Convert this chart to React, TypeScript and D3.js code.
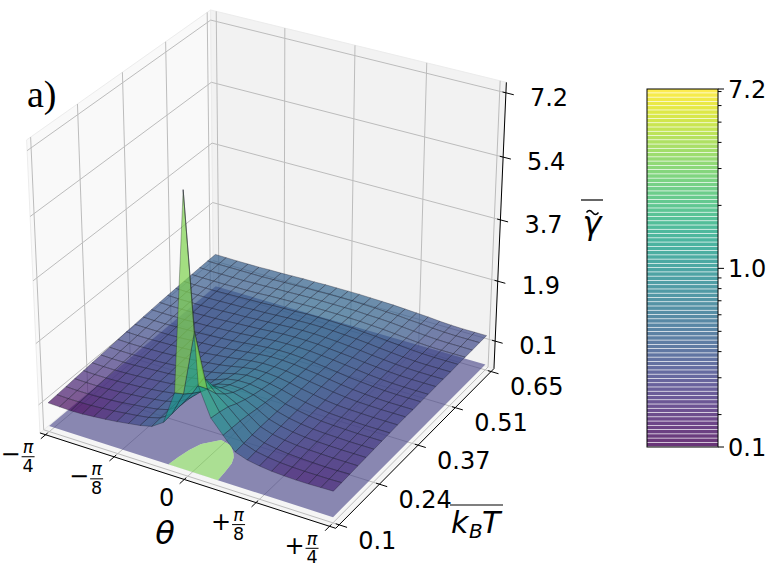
import { useMemo } from 'react';
import * as d3 from 'd3';

const W = 767;
const H = 571;
const FONT = 'DejaVu Sans, sans-serif';

// grid of the surface
const thetaDeg = [
  -45, -41.25, -37.5, -33.75, -30, -26.25, -22.5, -18.75, -15, -11.25, -7.5, -3.75, 0,
  3.75, 7.5, 11.25, 15, 18.75, 22.5, 26.25, 30, 33.75, 37.5, 41.25, 45,
];
const kbtValues = [
  0.1, 0.1275, 0.155, 0.1825, 0.21, 0.2375, 0.265, 0.2925, 0.32, 0.3475, 0.375,
  0.4025, 0.43, 0.4575, 0.485, 0.5125, 0.54, 0.5675, 0.595, 0.6225, 0.65,
];
// gamma[j][i] : row j = kbtValues[j], column i = thetaDeg[i]
const gamma = [
  [0.16, 0.15, 0.14, 0.15, 0.18, 0.21, 0.25, 0.30, 0.35, 0.43, 0.65, 1.60, 7.20, 2.00, 1.20, 0.82, 0.45, 0.33, 0.27, 0.23, 0.21, 0.20, 0.20, 0.21, 0.22],
  [0.18, 0.17, 0.17, 0.18, 0.20, 0.23, 0.27, 0.31, 0.36, 0.45, 0.68, 1.35, 3.20, 1.70, 1.15, 0.80, 0.47, 0.35, 0.29, 0.25, 0.23, 0.22, 0.22, 0.22, 0.23],
  [0.20, 0.19, 0.19, 0.20, 0.22, 0.25, 0.29, 0.33, 0.38, 0.47, 0.70, 1.15, 1.70, 1.35, 1.08, 0.78, 0.49, 0.37, 0.31, 0.27, 0.25, 0.24, 0.23, 0.23, 0.24],
  [0.22, 0.21, 0.21, 0.22, 0.24, 0.27, 0.30, 0.34, 0.39, 0.48, 0.68, 0.98, 1.25, 1.12, 0.95, 0.74, 0.50, 0.39, 0.33, 0.29, 0.27, 0.26, 0.25, 0.25, 0.25],
  [0.24, 0.23, 0.23, 0.24, 0.26, 0.28, 0.31, 0.35, 0.40, 0.48, 0.64, 0.86, 0.98, 0.95, 0.85, 0.69, 0.50, 0.40, 0.34, 0.30, 0.28, 0.27, 0.26, 0.26, 0.26],
  [0.26, 0.25, 0.25, 0.26, 0.28, 0.30, 0.33, 0.36, 0.41, 0.48, 0.60, 0.77, 0.85, 0.84, 0.77, 0.65, 0.50, 0.41, 0.35, 0.31, 0.29, 0.28, 0.27, 0.27, 0.27],
  [0.28, 0.27, 0.27, 0.28, 0.30, 0.32, 0.34, 0.38, 0.42, 0.48, 0.57, 0.70, 0.76, 0.76, 0.71, 0.62, 0.50, 0.42, 0.36, 0.32, 0.30, 0.29, 0.28, 0.28, 0.28],
  [0.30, 0.29, 0.29, 0.30, 0.31, 0.33, 0.36, 0.39, 0.43, 0.48, 0.55, 0.64, 0.70, 0.70, 0.66, 0.59, 0.50, 0.43, 0.37, 0.33, 0.31, 0.30, 0.29, 0.29, 0.29],
  [0.32, 0.31, 0.31, 0.32, 0.33, 0.35, 0.37, 0.40, 0.44, 0.48, 0.54, 0.61, 0.66, 0.66, 0.63, 0.57, 0.50, 0.44, 0.38, 0.34, 0.32, 0.31, 0.30, 0.30, 0.30],
  [0.34, 0.33, 0.33, 0.34, 0.35, 0.36, 0.38, 0.41, 0.45, 0.49, 0.54, 0.59, 0.62, 0.62, 0.60, 0.55, 0.50, 0.45, 0.40, 0.36, 0.33, 0.32, 0.31, 0.31, 0.31],
  [0.355, 0.35, 0.35, 0.35, 0.36, 0.38, 0.40, 0.42, 0.45, 0.49, 0.53, 0.57, 0.60, 0.60, 0.58, 0.54, 0.50, 0.45, 0.40, 0.36, 0.33, 0.31, 0.30, 0.30, 0.30],
  [0.37, 0.36, 0.36, 0.37, 0.38, 0.39, 0.41, 0.43, 0.46, 0.49, 0.53, 0.56, 0.58, 0.58, 0.56, 0.53, 0.49, 0.45, 0.40, 0.37, 0.34, 0.32, 0.31, 0.31, 0.31],
  [0.385, 0.38, 0.38, 0.38, 0.39, 0.40, 0.42, 0.44, 0.46, 0.49, 0.52, 0.55, 0.56, 0.56, 0.55, 0.52, 0.49, 0.45, 0.41, 0.37, 0.34, 0.32, 0.31, 0.31, 0.31],
  [0.40, 0.39, 0.39, 0.39, 0.40, 0.41, 0.43, 0.45, 0.47, 0.49, 0.52, 0.54, 0.55, 0.55, 0.54, 0.51, 0.48, 0.45, 0.41, 0.38, 0.35, 0.33, 0.32, 0.32, 0.32],
  [0.41, 0.40, 0.40, 0.40, 0.41, 0.42, 0.44, 0.45, 0.47, 0.49, 0.51, 0.53, 0.54, 0.54, 0.53, 0.51, 0.48, 0.45, 0.41, 0.38, 0.35, 0.33, 0.32, 0.32, 0.32],
  [0.42, 0.41, 0.41, 0.41, 0.42, 0.43, 0.44, 0.46, 0.47, 0.49, 0.51, 0.52, 0.53, 0.53, 0.52, 0.50, 0.48, 0.45, 0.41, 0.38, 0.35, 0.33, 0.32, 0.32, 0.32],
  [0.43, 0.42, 0.42, 0.42, 0.43, 0.44, 0.45, 0.46, 0.48, 0.49, 0.50, 0.52, 0.52, 0.52, 0.51, 0.50, 0.47, 0.45, 0.42, 0.39, 0.36, 0.34, 0.33, 0.33, 0.33],
  [0.44, 0.43, 0.43, 0.43, 0.44, 0.44, 0.45, 0.47, 0.48, 0.49, 0.50, 0.51, 0.51, 0.51, 0.50, 0.49, 0.47, 0.45, 0.42, 0.39, 0.36, 0.34, 0.33, 0.33, 0.33],
  [0.45, 0.44, 0.44, 0.44, 0.44, 0.45, 0.46, 0.47, 0.48, 0.49, 0.50, 0.50, 0.50, 0.50, 0.50, 0.48, 0.47, 0.45, 0.42, 0.39, 0.36, 0.34, 0.33, 0.33, 0.33],
  [0.455, 0.45, 0.45, 0.45, 0.45, 0.45, 0.46, 0.47, 0.48, 0.49, 0.49, 0.50, 0.50, 0.50, 0.49, 0.48, 0.46, 0.45, 0.42, 0.40, 0.37, 0.35, 0.34, 0.34, 0.34],
  [0.46, 0.455, 0.45, 0.45, 0.45, 0.46, 0.46, 0.47, 0.48, 0.48, 0.49, 0.49, 0.49, 0.49, 0.48, 0.47, 0.46, 0.44, 0.42, 0.40, 0.37, 0.35, 0.34, 0.34, 0.34],
];

const thetaTicks = [-45, -22.5, 0, 22.5, 45];
const thetaTickLabels = [
  { sign: '−', num: 'π', den: '4' },
  { sign: '−', num: 'π', den: '8' },
  { text: '0' },
  { sign: '+', num: 'π', den: '8' },
  { sign: '+', num: 'π', den: '4' },
];
const kbtTicks = [0.1, 0.2375, 0.375, 0.5125, 0.65];
const kbtTickLabels = ['0.1', '0.24', '0.37', '0.51', '0.65'];
const zTicks = [0.14, 1.905, 3.67, 5.435, 7.2];
const zTickLabels = ['0.1', '1.9', '3.7', '5.4', '7.2'];
const cbarTicks = [0.14, 1.0, 7.2];
const cbarTickLabels = ['0.1', '1.0', '7.2'];
const cbarMinor = [0.2, 0.3, 0.4, 0.5, 0.6, 0.7, 0.8, 0.9, 2, 3, 4, 5, 6, 7];
const contourLevels = [1.0];
const Z_LIM: [number, number] = [-0.52, 7.32];
const Z_FLOOR = -0.52;
const V_RANGE: [number, number] = [0.14, 7.2];

// camera (matplotlib style: azim -60, elev 30, cube box)
const AZIM = -60;
const ELEV = 30;
const DIST = 10;
const BOX = 1.8294640721620434 / Math.sqrt(3);
const PAD = BOX / 48;
const LO = -PAD;
const HI = BOX + PAD;
const SX = 3103;
const SY = 3037;
const CX = 270.8;
const CY = 259.4;

type V3 = [number, number, number];
const dot = (a: V3, b: V3) => a[0] * b[0] + a[1] * b[1] + a[2] * b[2];
const cross = (a: V3, b: V3): V3 => [
  a[1] * b[2] - a[2] * b[1],
  a[2] * b[0] - a[0] * b[2],
  a[0] * b[1] - a[1] * b[0],
];
const norm = (a: V3): V3 => {
  const l = Math.hypot(a[0], a[1], a[2]);
  return [a[0] / l, a[1] / l, a[2] / l];
};

const el = (ELEV * Math.PI) / 180;
const az = (AZIM * Math.PI) / 180;
const vw: V3 = [Math.cos(el) * Math.cos(az), Math.cos(el) * Math.sin(az), Math.sin(el)];
const eye: V3 = [BOX / 2 + DIST * vw[0], BOX / 2 + DIST * vw[1], BOX / 2 + DIST * vw[2]];
const vu = norm(cross([0, 0, 1], vw));
const vv = cross(vw, vu);

function project(p: V3): [number, number, number] {
  const d: V3 = [p[0] - eye[0], p[1] - eye[1], p[2] - eye[2]];
  const depth = -dot(d, vw);
  return [CX + (SX * dot(d, vu)) / depth, CY - (SY * dot(d, vv)) / depth, depth];
}

const xS = d3.scaleLinear().domain([-45, 45]).range([0, BOX]);
const yS = d3.scaleLinear().domain([0.1, 0.65]).range([0, BOX]);
const zS = d3.scaleLinear().domain(Z_LIM).range([0, BOX]);
const color = d3.scaleSequentialLog(d3.interpolateViridis).domain(V_RANGE).clamp(true);

const pt = (p: V3) => {
  const q = project(p);
  return `${q[0].toFixed(2)},${q[1].toFixed(2)}`;
};
const poly = (ps: V3[]) => 'M' + ps.map(pt).join('L') + 'Z';
const line = (ps: V3[]) => 'M' + ps.map(pt).join('L');

function Frac({ x, y, sign, num, den }: { x: number; y: number; sign: string; num: string; den: string }) {
  return (
    <g fontFamily={FONT} fill="#000">
      <text x={x - 15} y={y + 5.5} textAnchor="end" fontSize={24}>{sign}</text>
      <line x1={x - 14} x2={x - 1} y1={y} y2={y} stroke="#000" strokeWidth={1} />
      <text x={x - 7.5} y={y - 3.5} textAnchor="middle" fontSize={17.5} fontStyle="italic">{num}</text>
      <text x={x - 7.5} y={y + 15} textAnchor="middle" fontSize={17.5}>{den}</text>
    </g>
  );
}

export default function App() {
  const { cells, floorLow, floorHigh } = useMemo(() => {
    const nt = thetaDeg.length;
    const nk = kbtValues.length;
    const P = kbtValues.map((k, j) =>
      thetaDeg.map((t, i) => project([xS(t), yS(k), zS(gamma[j][i])])),
    );
    const out: { d: string; depth: number; fill: string }[] = [];
    for (let j = 0; j < nk - 1; j++) {
      for (let i = 0; i < nt - 1; i++) {
        const idx = [[i, j], [i + 1, j], [i + 1, j + 1], [i, j + 1]];
        const ps = idx.map(([a, b]) => P[b][a]);
        const depth = d3.mean(ps, (p) => p[2]) as number;
        const val = d3.mean(idx, ([a, b]) => gamma[b][a]) as number;
        out.push({
          d: 'M' + ps.map((p) => `${p[0].toFixed(2)},${p[1].toFixed(2)}`).join('L') + 'Z',
          depth,
          fill: color(val),
        });
      }
    }
    out.sort((a, b) => b.depth - a.depth);

    // filled contour projected onto the floor (z = Z_FLOOR)
    const zf = zS(Z_FLOOR);
    const ix = d3.scaleLinear().domain([0, nt - 1]).range([-45, 45]);
    const iy = d3.scaleLinear().domain([0, nk - 1]).range([0.1, 0.65]);
    const cont = d3.contours().size([nt, nk]).thresholds(contourLevels)(gamma.flat())[0];
    let hi = '';
    cont.coordinates.forEach((polygon) => {
      polygon.forEach((ring) => {
        const ps: V3[] = ring.map(([x, y]) => [
          xS(ix(Math.max(0, Math.min(nt - 1, x - 0.5)))),
          yS(iy(Math.max(0, Math.min(nk - 1, y - 0.5)))),
          zf,
        ]);
        hi += poly(ps);
      });
    });
    const rect = poly([
      [0, 0, zf],
      [BOX, 0, zf],
      [BOX, BOX, zf],
      [0, BOX, zf],
    ]);
    return { cells: out, floorLow: rect + hi, floorHigh: hi };
  }, []);

  // colorbar
  const cbX = 647;
  const cbW = 71;
  const cbTop = 89;
  const cbBot = 447;
  const cbY = d3.scaleLog().domain(V_RANGE).range([cbBot, cbTop]);
  const NSTRIPE = 84;
  const stripes = d3.range(NSTRIPE).map((k) => {
    const y0 = cbBot - ((cbBot - cbTop) * k) / NSTRIPE;
    const y1 = cbBot - ((cbBot - cbTop) * (k + 1)) / NSTRIPE;
    return { y: y1, h: y0 - y1 - 0.7, fill: d3.interpolateViridis((k + 0.5) / NSTRIPE) };
  });

  const gridStroke = '#bcbcbc';

  return (
    <svg
      width={W}
      height={H}
      viewBox={`0 0 ${W} ${H}`}
      style={{ position: 'absolute', left: 0, top: 0, background: '#fff' }}
    >
      {/* panes */}
      <path d={poly([[LO, LO, LO], [HI, LO, LO], [HI, HI, LO], [LO, HI, LO]])} fill="#f5f5f5" stroke="#ececec" />
      <path d={poly([[LO, LO, LO], [LO, HI, LO], [LO, HI, HI], [LO, LO, HI]])} fill="#f9f9f9" stroke="#ececec" />
      <path d={poly([[LO, HI, LO], [HI, HI, LO], [HI, HI, HI], [LO, HI, HI]])} fill="#f2f2f2" stroke="#ececec" />

      {/* grid lines */}
      <g fill="none" stroke={gridStroke} strokeWidth={1}>
        {thetaTicks.map((t) => (
          <path key={'gt' + t} d={line([[xS(t), LO, LO], [xS(t), HI, LO], [xS(t), HI, HI]])} />
        ))}
        {kbtTicks.map((k) => (
          <path key={'gk' + k} d={line([[HI, yS(k), LO], [LO, yS(k), LO], [LO, yS(k), HI]])} />
        ))}
        {zTicks.map((z) => (
          <path key={'gz' + z} d={line([[LO, LO, zS(z)], [LO, HI, zS(z)], [HI, HI, zS(z)]])} />
        ))}
      </g>

      {/* axis lines and ticks */}
      <g fill="none" stroke="#000" strokeWidth={1}>
        <path d={line([[LO, LO, LO], [HI, LO, LO]])} />
        <path d={line([[HI, LO, LO], [HI, HI, LO]])} />
        <path d={line([[HI, HI, LO], [HI, HI, HI]])} />
        {thetaTicks.map((t) => (
          <path key={'tt' + t} d={line([[xS(t), LO + 0.012, LO], [xS(t), LO - 0.028, LO]])} />
        ))}
        {kbtTicks.map((k) => (
          <path key={'tk' + k} d={line([[HI - 0.012, yS(k), LO], [HI + 0.028, yS(k), LO]])} />
        ))}
        {zTicks.map((z) => (
          <path key={'tz' + z} d={line([[HI - 0.012, HI, zS(z)], [HI + 0.028, HI, zS(z)]])} />
        ))}
      </g>

      {/* filled contour on the floor */}
      <path d={floorLow} fill="rgb(65,62,132)" fillOpacity={0.6} fillRule="evenodd" />
      <path d={floorHigh} fill="rgb(122,209,81)" fillOpacity={0.6} />

      {/* surface */}
      <g strokeWidth={0.45} strokeOpacity={0.75} stroke="#1c1c2a" fillOpacity={0.7}>
        {cells.map((c, k) => (
          <path key={k} d={c.d} fill={c.fill} />
        ))}
      </g>

      {/* tick labels */}
      <g fontFamily={FONT} fill="#000">
        {thetaTicks.map((t, k) => {
          const [px, py] = project([xS(t), LO, LO]);
          const lab = thetaTickLabels[k];
          if (lab.text)
            return (
              <text key={'lt' + k} x={px - 10} y={py + 27} textAnchor="end" fontSize={24}>
                {lab.text}
              </text>
            );
          return <Frac key={'lt' + k} x={px - 10} y={py + 22} sign={lab.sign!} num={lab.num!} den={lab.den!} />;
        })}
        {kbtTicks.map((k, n) => {
          const [px, py] = project([HI, yS(k), LO]);
          return (
            <text key={'lk' + n} x={px + 19} y={py + 23.7} fontSize={24}>
              {kbtTickLabels[n]}
            </text>
          );
        })}
        {zTicks.map((z, n) => {
          const [px, py] = project([HI, HI, zS(z)]);
          return (
            <text key={'lz' + n} x={px + 24} y={py + 12.7} fontSize={24}>
              {zTickLabels[n]}
            </text>
          );
        })}
      </g>

      {/* axis labels */}
      <g fontFamily={FONT} fill="#000" fontStyle="italic">
        <text x={165} y={544} textAnchor="middle" fontSize={32}>θ</text>
        <line x1={450} x2={503} y1={505} y2={505} stroke="#000" strokeWidth={1.2} />
        <text x={451} y={533} fontSize={30}>k</text>
        <text x={469} y={538} fontSize={20}>B</text>
        <text x={482} y={533} fontSize={30}>T</text>
        <line x1={581} x2={603} y1={200} y2={200} stroke="#000" strokeWidth={1.2} />
        <path d="M586.5,212.5 q3,-4 6,0 t6,0" fill="none" stroke="#000" strokeWidth={1.4} />
        <text x={592} y={234} textAnchor="middle" fontSize={32}>γ</text>
      </g>
      <text x={27} y={107} fontFamily="Liberation Serif, DejaVu Serif, serif" fontSize={38} fill="#000">
        a)
      </text>

      {/* colorbar */}
      <g>
        {stripes.map((s, k) => (
          <rect key={k} x={cbX} y={s.y} width={cbW} height={s.h} fill={s.fill} fillOpacity={0.8} />
        ))}
        <rect x={cbX} y={cbTop} width={cbW} height={cbBot - cbTop} fill="none" stroke="#000" strokeWidth={1} />
        <g stroke="#000" strokeWidth={1}>
          {cbarTicks.map((v) => (
            <line key={'cm' + v} x1={cbX + cbW} x2={cbX + cbW + 6} y1={cbY(v)} y2={cbY(v)} />
          ))}
          {cbarMinor.map((v) => (
            <line key={'cn' + v} x1={cbX + cbW} x2={cbX + cbW + 3.5} y1={cbY(v)} y2={cbY(v)} />
          ))}
        </g>
        <g fontFamily={FONT} fontSize={24} fill="#000">
          {cbarTicks.map((v, k) => (
            <text key={'cl' + v} x={cbX + cbW + 10} y={cbY(v) + 8.7}>
              {cbarTickLabels[k]}
            </text>
          ))}
        </g>
      </g>
    </svg>
  );
}
